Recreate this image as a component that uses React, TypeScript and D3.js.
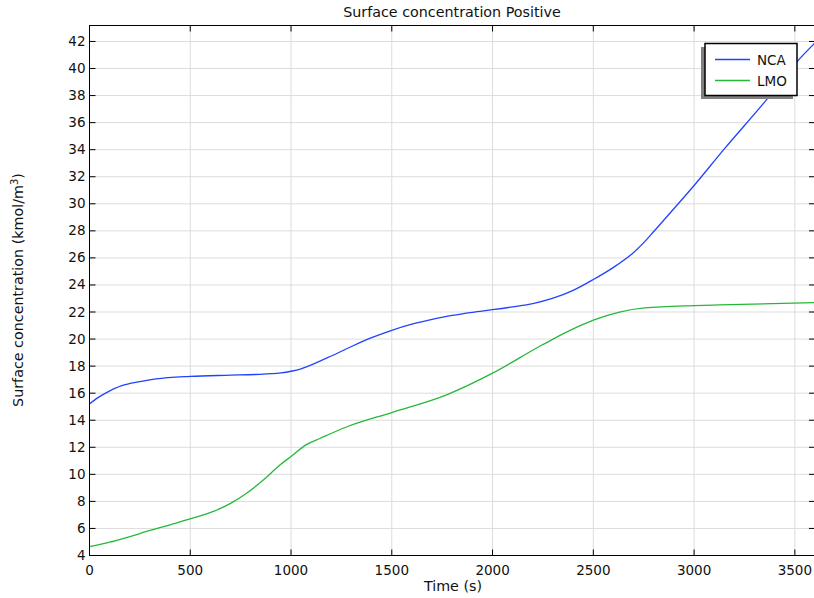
import React, { useEffect, useRef } from 'react';
import * as d3 from 'd3';

// values
const ncaTime = [0, 40, 80, 160, 250, 330, 500, 700, 820, 950, 1000, 1050, 1110, 1200, 1300, 1400, 1500, 1600, 1700, 1800, 1900, 2000, 2100, 2200, 2300, 2400, 2500, 2600, 2700, 2755, 2800, 2880, 3000, 3150, 3360, 3510, 3600];
const ncaConc = [15.2, 15.65, 16.0, 16.55, 16.85, 17.05, 17.24, 17.33, 17.38, 17.5, 17.62, 17.8, 18.15, 18.75, 19.45, 20.1, 20.65, 21.1, 21.45, 21.75, 21.98, 22.17, 22.38, 22.62, 23.02, 23.6, 24.4, 25.3, 26.4, 27.2, 27.95, 29.3, 31.35, 34.06, 37.7, 40.5, 41.9];

const lmoTime = [0, 100, 200, 300, 400, 500, 615, 698, 781, 864, 946, 1000, 1076, 1143, 1275, 1500, 1772, 2000, 2232, 2300, 2400, 2500, 2630, 2755, 3000, 3127, 3600];
const lmoConc = [4.65, 4.98, 5.4, 5.85, 6.27, 6.7, 7.26, 7.83, 8.62, 9.6, 10.7, 11.32, 12.2, 12.65, 13.5, 14.57, 15.88, 17.48, 19.45, 20.0, 20.75, 21.4, 22.0, 22.3, 22.47, 22.52, 22.7];

const xTicks = [0, 500, 1000, 1500, 2000, 2500, 3000, 3500];
const yTicks = d3.range(4, 43, 2);
const seriesNames = ['NCA', 'LMO'];
const seriesColors = ['#2142ff', '#25b83a'];

const W = 814, H = 598;
const left = 89.5, top = 25.5, right = 815, bottom = 555.5;
const font = 'DejaVu Sans, sans-serif';

export default function App() {
    const ref = useRef<SVGSVGElement>(null);

    useEffect(() => {
        const svg = d3.select(ref.current);
        svg.selectAll('*').remove();

        const x = d3.scaleLinear().domain([0, 3600]).range([left, right]);
        const y = d3.scaleLinear().domain([4, 43.18]).range([bottom, top]);

        svg.append('rect').attr('width', W).attr('height', H).attr('fill', '#fff');

        // grid
        const grid = svg.append('g').attr('stroke', '#dcdcdc').attr('stroke-width', 1);
        xTicks.forEach(t => {
            grid.append('line').attr('x1', x(t)).attr('x2', x(t)).attr('y1', top).attr('y2', bottom);
        });
        yTicks.forEach(t => {
            grid.append('line').attr('x1', left).attr('x2', right).attr('y1', y(t)).attr('y2', y(t));
        });

        // lines
        const datasets = [
            ncaTime.map((t, i) => [t, ncaConc[i]]),
            lmoTime.map((t, i) => [t, lmoConc[i]]),
        ];
        const line = d3.line<number[]>()
            .x(d => x(d[0]))
            .y(d => y(d[1]))
            .curve(d3.curveMonotoneX);
        datasets.forEach((data, i) => {
            svg.append('path')
                .attr('d', line(data))
                .attr('fill', 'none')
                .attr('stroke', seriesColors[i])
                .attr('stroke-width', 1.3);
        });

        // frame and ticks
        svg.append('rect')
            .attr('x', left).attr('y', top)
            .attr('width', right - left).attr('height', bottom - top)
            .attr('fill', 'none').attr('stroke', '#000').attr('stroke-width', 1);

        const ticks = svg.append('g').attr('stroke', '#000').attr('stroke-width', 1);
        xTicks.forEach(t => {
            ticks.append('line').attr('x1', x(t)).attr('x2', x(t)).attr('y1', bottom).attr('y2', bottom - 6);
            ticks.append('line').attr('x1', x(t)).attr('x2', x(t)).attr('y1', top).attr('y2', top + 6);
        });
        yTicks.forEach(t => {
            ticks.append('line').attr('x1', left).attr('x2', left + 6).attr('y1', y(t)).attr('y2', y(t));
            ticks.append('line').attr('x1', right).attr('x2', right - 6).attr('y1', y(t)).attr('y2', y(t));
        });

        // tick labels
        svg.append('g').selectAll('text')
            .data(xTicks).enter()
            .append('text')
            .attr('x', d => x(d))
            .attr('y', bottom + 19)
            .attr('text-anchor', 'middle')
            .attr('font-family', font).attr('font-size', 13.5).attr('fill', '#111')
            .text(d => d);

        svg.append('g').selectAll('text')
            .data(yTicks).enter()
            .append('text')
            .attr('x', left - 4)
            .attr('y', d => y(d) + 4.5)
            .attr('text-anchor', 'end')
            .attr('font-family', font).attr('font-size', 13.5).attr('fill', '#111')
            .text(d => d);

        // title
        svg.append('text')
            .attr('x', 452).attr('y', 17)
            .attr('text-anchor', 'middle')
            .attr('font-family', font).attr('font-size', 14.3).attr('fill', '#111')
            .text('Surface concentration Positive');

        // x-axis label
        svg.append('text')
            .attr('x', 453).attr('y', 591)
            .attr('text-anchor', 'middle')
            .attr('font-family', font).attr('font-size', 14.3).attr('fill', '#111')
            .text('Time (s)');

        // y-axis label
        const yl = svg.append('text')
            .attr('transform', `translate(23, 290) rotate(-90)`)
            .attr('text-anchor', 'middle')
            .attr('font-family', font).attr('font-size', 14.3).attr('fill', '#111');
        yl.append('tspan').text('Surface concentration (kmol/m');
        yl.append('tspan').attr('dy', -5).attr('font-size', 10).text('3');
        yl.append('tspan').attr('dy', 5).text(')');

        // legend
        const lg = svg.append('g');
        lg.append('rect').attr('x', 701).attr('y', 47).attr('width', 92).attr('height', 52).attr('fill', '#808080');
        lg.append('rect').attr('x', 705).attr('y', 43.5).attr('width', 92).attr('height', 52)
            .attr('fill', '#fff').attr('stroke', '#000').attr('stroke-width', 1.5);
        seriesNames.forEach((name, i) => {
            const ly = 59.5 + i * 21;
            lg.append('line').attr('x1', 715).attr('x2', 750).attr('y1', ly).attr('y2', ly)
                .attr('stroke', seriesColors[i]).attr('stroke-width', 1.3);
            lg.append('text').attr('x', 757).attr('y', ly + 5)
                .attr('font-family', font).attr('font-size', 13.5).attr('fill', '#111')
                .text(name);
        });
    }, []);

    return (
        <svg ref={ref} width={W} height={H}
            style={{ position: 'absolute', left: 0, top: 0, display: 'block' }} />
    );
}
